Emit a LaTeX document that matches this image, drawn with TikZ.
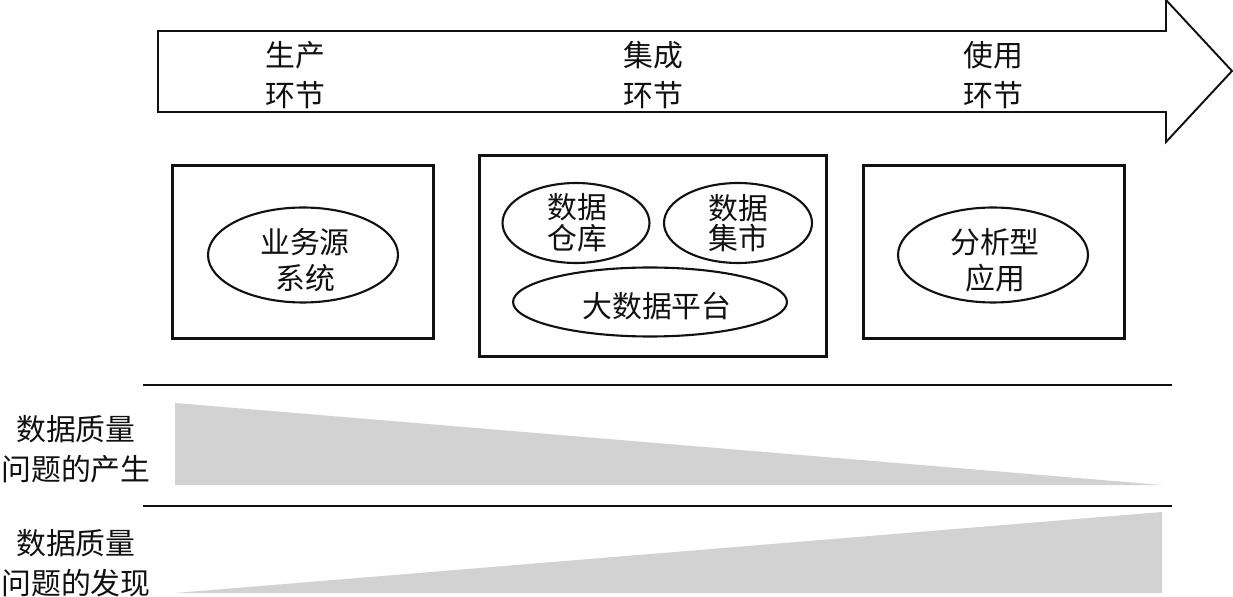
\documentclass[tikz,border=0pt]{standalone}
\usepackage{fontspec}
\usepackage{tikz}
\usetikzlibrary{positioning,shapes.geometric}
\newfontfamily\cjk{Noto Sans CJK SC}
\definecolor{cInk}{HTML}{111111}
\definecolor{cFog}{HTML}{D2D2D2}
\tikzset{
  box/.style={rectangle,draw=cInk,line width=1.7pt,fill=white,inner sep=0pt},
  oval/.style={ellipse,draw=cInk,line width=1.2pt,inner sep=0pt},
  tx/.style={font=\cjk\fontsize{17}{22.5}\selectfont,text=cInk,align=center,inner sep=0pt},
  txm/.style={font=\cjk\fontsize{17}{20.5}\selectfont,text=cInk,align=center,inner sep=0pt},
  txs/.style={font=\cjk\fontsize{17}{17.5}\selectfont,text=cInk,align=center,inner sep=0pt},
  band/.style={fill=cFog,draw=none},
  rl/.style={draw=cInk,line width=1pt},
}
\begin{document}
\begin{tikzpicture}[x=0.02cm,y=-0.02cm]
      \useasboundingbox (0,0) rectangle (1233,597);
      \draw[cInk,line width=1.1pt,fill=white,line join=miter]
        (158,31) -- (1166,31) -- (1166,0) -- (1232,71) -- (1166,142) -- (1166,112) -- (158,112) -- cycle;
      \node[tx] (prod) at (295,75)  {生产\\环节};
      \node[tx] (intg) at (653,75)  {集成\\环节};
      \node[tx] (use)  at (993,75)  {使用\\环节};
      \node[box,minimum width=5.22cm,minimum height=3.48cm] (srcbox) at (303,252) {};
      \node[box,minimum width=6.96cm,minimum height=4.02cm] (midbox) at (653,256) {};
      \node[box,minimum width=5.22cm,minimum height=3.48cm] (appbox) at (994,252) {};
      \node[oval,minimum width=3.8cm,minimum height=1.9cm]   (src)  at (303,255) {};
      \node[oval,minimum width=2.94cm,minimum height=1.6cm]  (dw)   at (576,223) {};
      \node[oval,minimum width=2.96cm,minimum height=1.6cm]  (dm)   at (738,223) {};
      \node[oval,minimum width=5.48cm,minimum height=1.38cm] (bdp)  at (650,302) {};
      \node[oval,minimum width=3.8cm,minimum height=1.9cm]   (app)  at (993,255) {};
      \node[txm] (srct) at (305,260) {业务源\\系统};
      \node[txs] (dwt)  at (577,223) {数据\\仓库};
      \node[txs] (dmt)  at (738,223) {数据\\集市};
      \node[txs] (bdpt) at (657,306) {大数据平台};
      \node[txm] (appt) at (995,260) {分析型\\应用};
      \foreach \y in {385,506}
        \draw[rl] (143,\y) -- (1172,\y);
      \fill[band] (175,403) -- (175,485) -- (1162,485) -- cycle;
      \fill[band] (175,593) -- (1162,512) -- (1162,593) -- cycle;
      \node[tx] (gen)  at (76,449) {数据质量\\问题的产生};
      \node[tx] (find) at (76,563) {数据质量\\问题的发现};
    \end{tikzpicture}
\end{document}
